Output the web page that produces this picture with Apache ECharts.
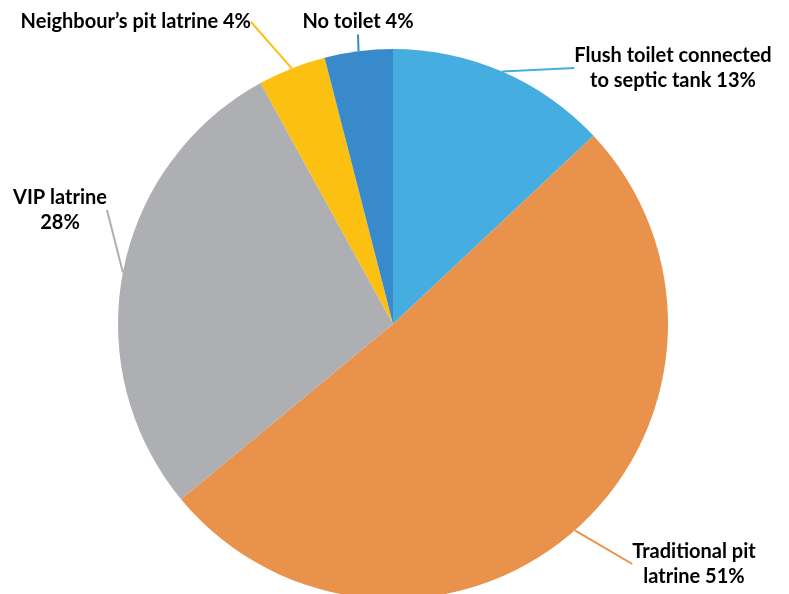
<!DOCTYPE html>
<html>
<head>
<meta charset="utf-8">
<script src="https://cdn.jsdelivr.net/npm/echarts@6/dist/echarts.min.js"></script>
<style>
  html, body { margin: 0; padding: 0; background: #fff; }
  #main { width: 789px; height: 594px; }
</style>
</head>
<body>
<div id="main"></div>
<script>
// toilet types, clockwise from the top
const categories = ['Flush toilet connected to septic tank', 'Traditional pit latrine', 'VIP latrine', 'Neighbour\u2019s pit latrine', 'No toilet'];
const values = [13, 51, 28, 4, 4];
const labelTexts = ['Flush toilet connected\nto septic tank 13%', 'Traditional pit\nlatrine 51%', 'VIP latrine\n28%', 'Neighbour\u2019s pit latrine 4%', 'No toilet 4%'];
const colors = ['#46ADE1', '#E8924B', '#AEAFB2', '#FCC012', '#398ACB'];

// where each label sits
const labelPos = [
  { x: 673, y: 68, align: 'center' },
  { x: 694, y: 564, align: 'center' },
  { x: 60, y: 210, align: 'center' },
  { x: 251, y: 22, align: 'right' },
  { x: 358, y: 22, align: 'center' }
];

const chart = echarts.init(document.getElementById('main'));
chart.setOption({
  animation: false,
  series: [{
    type: 'pie',
    center: [393, 324],
    radius: [0, 275],
    startAngle: 90,
    clockwise: true,
    data: categories.map((c, i) => ({
      name: c,
      value: values[i],
      itemStyle: { color: colors[i] },
      labelLine: { lineStyle: { color: colors[i], width: 2 } }
    })),
    label: {
      show: true,
      position: 'outside',
      formatter: p => labelTexts[p.dataIndex],
      fontFamily: 'Lato, "Open Sans", sans-serif',
      fontWeight: 'bold',
      fontSize: 20,
      lineHeight: 25,
      color: '#000'
    },
    labelLine: { show: true, length: 15, length2: 0, smooth: false },
    labelLayout: p => {
      const lp = labelPos[p.dataIndex];
      return { x: lp.x, y: lp.y, align: lp.align, verticalAlign: 'middle' };
    }
  }]
});
</script>
</body>
</html>
